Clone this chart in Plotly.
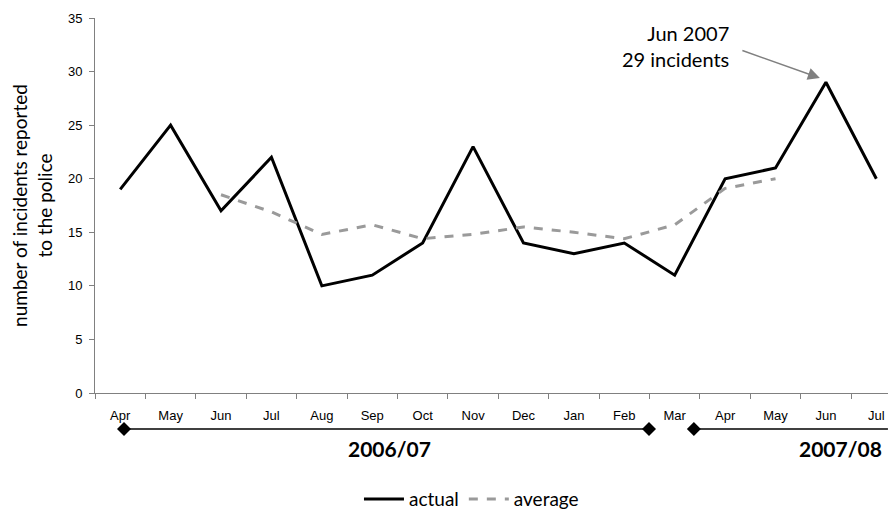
import plotly.graph_objects as go

months = ["Apr", "May", "Jun", "Jul", "Aug", "Sep", "Oct", "Nov", "Dec", "Jan", "Feb", "Mar",
          "Apr", "May", "Jun", "Jul"]
actual = [19, 25, 17, 22, 10, 11, 14, 23, 14, 13, 14, 11, 20, 21, 29, 20]
average = [None, None, 18.5, 16.9, 14.8, 15.7, 14.4, 14.8, 15.5, 15.0, 14.4, 15.7, 19.1, 20.0, None, None]
y_ticks = [0, 5, 10, 15, 20, 25, 30, 35]
year_labels = ["2006/07", "2007/08"]
year_spans = [(0.075, 10.49), (11.38, 15.23)]
year_label_x = [5.35, 15.15]

x = list(range(len(months)))
TXT = "Lato"
AX = "Liberation Sans"

fig = go.Figure()
fig.add_trace(go.Scatter(x=x, y=actual, mode="lines", name="actual",
                         line=dict(color="black", width=3)))
fig.add_trace(go.Scatter(x=x, y=average, mode="lines", name="average",
                         line=dict(color="#9a9a9a", width=3, dash="dash")))

BRACKET_Y = -0.096
diamond = "M -7 0 L 0 -7 L 7 0 L 0 7 Z"
shapes = []
for a, b in year_spans:
    shapes.append(dict(type="line", xref="x", yref="paper", x0=a, x1=b, y0=BRACKET_Y, y1=BRACKET_Y,
                       line=dict(color="black", width=1.5)))
for xa in [year_spans[0][0], year_spans[0][1], year_spans[1][0]]:
    shapes.append(dict(type="path", xref="x", yref="paper", xsizemode="pixel", ysizemode="pixel",
                       xanchor=xa, yanchor=BRACKET_Y, path=diamond,
                       fillcolor="black", line=dict(color="black", width=0)))

annotations = [
    dict(xref="x", yref="paper", x=year_label_x[0], y=-0.147, text="<b>" + year_labels[0] + "</b>",
         showarrow=False, font=dict(family=TXT, size=21, color="black"),
         xanchor="center", yanchor="middle"),
    dict(xref="x", yref="paper", x=year_label_x[1], y=-0.147, text="<b>" + year_labels[1] + "</b>",
         showarrow=False, font=dict(family=TXT, size=21, color="black"),
         xanchor="right", yanchor="middle"),
    dict(xref="x", yref="y", x=12.12, y=32.4, text="Jun 2007<br>29 incidents", showarrow=False,
         font=dict(family=TXT, size=20, color="black"), xanchor="right", yanchor="middle",
         align="right"),
    dict(xref="x", yref="y", x=13.88, y=29.4, text="", showarrow=True, axref="pixel", ayref="pixel",
         ax=-79, ay=-28, arrowcolor="#808080", arrowwidth=1.5, arrowhead=2, arrowsize=1.6,
         standoff=0),
]

fig.update_layout(
    width=888, height=509,
    margin=dict(l=87, r=0, t=10, b=124),
    paper_bgcolor="white", plot_bgcolor="white",
    showlegend=True,
    legend=dict(orientation="h", x=0.47, xanchor="center", yref="container", y=0.035,
                yanchor="middle", font=dict(family=TXT, size=19, color="black"),
                tracegroupgap=0, itemwidth=40),
    shapes=shapes, annotations=annotations,
    xaxis=dict(range=[-0.5, 15.39], tickmode="array", tickvals=x, ticktext=months,
               ticks="", showgrid=False, zeroline=False, showline=True, linecolor="#808080",
               linewidth=1, tickfont=dict(family=AX, size=13, color="black"),
               ticklabelstandoff=10,
               minor=dict(tick0=0.5, dtick=1, ticks="outside", ticklen=5, tickcolor="#808080",
                          showgrid=False)),
    yaxis=dict(range=[0, 35], tickvals=y_ticks, ticks="outside", ticklen=5, tickcolor="#808080",
               showgrid=False, zeroline=False, showline=True, linecolor="#808080", linewidth=1,
               tickfont=dict(family=AX, size=13, color="black"), ticklabelstandoff=4,
               title=dict(text="number of incidents reported<br>to the police",
                          font=dict(family=TXT, size=19, color="black"), standoff=14)),
)

fig.write_html("out.html")
